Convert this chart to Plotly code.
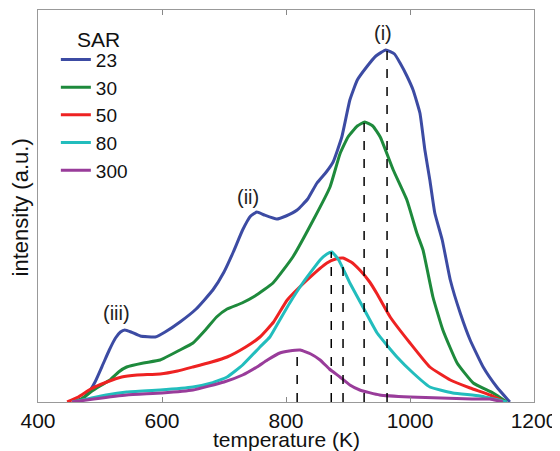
import plotly.graph_objects as go

# temperature (K) / intensity (a.u.)
t_23 = [455, 470, 480, 492, 505, 515, 525, 533, 540, 550, 565, 589, 605, 629, 655, 682, 700, 715, 730,
        743, 753, 765, 785, 800, 818, 835, 850, 865, 876, 890, 903, 915, 930, 945, 961, 975, 984, 995,
        1005, 1016, 1024, 1032, 1040, 1052, 1065, 1081, 1097, 1118, 1140, 1161]
i_23 = [0, 3, 8, 20, 38, 52, 64, 70, 72, 70, 66, 65, 70, 80, 93, 112, 130, 150, 172,
        186, 190, 187, 183, 186, 192, 203, 219, 230, 240, 265, 302, 322, 335, 346, 352, 348, 339, 326,
        312, 289, 252, 222, 189, 162, 122, 89, 62, 35, 15, 0]

t_30 = [455, 470, 485, 500, 516, 530, 543, 570, 597, 629, 650, 670, 688, 705, 729, 750, 779, 811, 844,
        871, 887, 900, 915, 927, 940, 952, 973, 995, 1011, 1021, 1037, 1053, 1076, 1102, 1134, 1156]
i_30 = [0, 3, 10, 16, 22, 30, 35, 39, 42, 52, 59, 72, 85, 93, 99, 106, 119, 145, 182,
        215, 248, 265, 276, 280, 276, 265, 232, 202, 169, 152, 105, 72, 39, 19, 9, 0]

t_50 = [447, 465, 485, 511, 535, 560, 597, 625, 650, 680, 705, 735, 758, 780, 802, 834, 866, 880, 892,
        905, 919, 935, 947, 968, 1000, 1032, 1065, 1097, 1129, 1153]
i_50 = [0, 5, 13, 20, 25, 27, 28, 31, 35, 40, 45, 55, 65, 80, 102, 122, 139, 143, 144,
        140, 132, 120, 108, 85, 59, 35, 22, 14, 7, 0]

t_80 = [455, 480, 510, 543, 597, 650, 680, 705, 730, 758, 774, 790, 806, 827, 855, 866, 874, 885, 903,
        924, 947, 979, 1005, 1032, 1069, 1113, 1156]
i_80 = [0, 3, 7, 10, 12, 15, 19, 25, 37, 55, 65, 82, 99, 119, 142, 148, 150, 142, 119,
        95, 69, 45, 29, 15, 9, 6, 0]

t_300 = [455, 490, 543, 600, 650, 700, 730, 753, 770, 790, 805, 823, 840, 855, 870, 887, 903, 919, 951,
         1000, 1050, 1100, 1129, 1150]
i_300 = [0, 3, 7, 9, 12, 20, 27, 35, 42, 49, 51, 52, 48, 42, 33, 25, 17, 12, 7,
         5, 4, 3, 3, 0]

peak_t = [818, 873, 892, 926, 963]
peak_i = [52, 150, 144, 280, 352]

sar = ["23", "30", "50", "80", "300"]
colors = ["#3c4ba3", "#1e8a3c", "#ee2222", "#22bdbd", "#993c9a"]

fig = go.Figure()
for name, t, y, col in zip(sar, [t_23, t_30, t_50, t_80, t_300],
                           [i_23, i_30, i_50, i_80, i_300], colors):
    fig.add_trace(go.Scatter(x=t, y=y, mode="lines", name=name,
                             line=dict(color=col, width=3, shape="spline", smoothing=0.4)))

for pt, pi in zip(peak_t, peak_i):
    fig.add_trace(go.Scatter(x=[pt, pt], y=[0, pi], mode="lines", showlegend=False,
                             line=dict(color="black", width=1.5, dash="dash")))

labels = [("(i)", 956, 369), ("(ii)", 739, 205), ("(iii)", 527, 89)]
for txt, lx, ly in labels:
    fig.add_annotation(x=lx, y=ly, text=txt, showarrow=False,
                       font=dict(size=20, color="#222"))

# axis titles and legend heading as annotations to pin their positions
fig.add_annotation(x=0.5, y=0, xref="paper", yref="paper", yanchor="top", yshift=-24,
                   text="temperature (K)", showarrow=False, font=dict(size=21))
fig.add_annotation(x=0, y=0.495, xref="paper", yref="paper", xanchor="right", xshift=-3,
                   text="intensity (a.u.)", textangle=-90, showarrow=False, font=dict(size=22))
fig.add_annotation(x=0.074, y=0.96, xref="paper", yref="paper",
                   text="SAR", showarrow=False, font=dict(size=21))

# page body offsets the figure by 8px, so margins are set to compensate
fig.update_layout(
    width=560, height=451,
    margin=dict(l=30, r=34, t=2, b=57),
    plot_bgcolor="white", paper_bgcolor="white",
    font=dict(family="Liberation Sans, Arial", size=21, color="#111"),
    legend=dict(x=0.036, y=0.922, xanchor="left", yanchor="top",
                bgcolor="rgba(0,0,0,0)", font=dict(size=19), tracegroupgap=0),
)
fig.update_xaxes(range=[400, 1200], tickvals=[400, 600, 800, 1000, 1200],
                 ticks="inside", ticklen=5, tickcolor="#888", mirror="ticks",
                 showline=True, linecolor="#999", linewidth=1, showgrid=False,
                 zeroline=False, automargin=False)
fig.update_yaxes(range=[0, 392], showticklabels=False, ticks="",
                 mirror=True, showline=True, linecolor="#999", linewidth=1,
                 showgrid=False, zeroline=False, automargin=False)

fig.write_html("out.html")
